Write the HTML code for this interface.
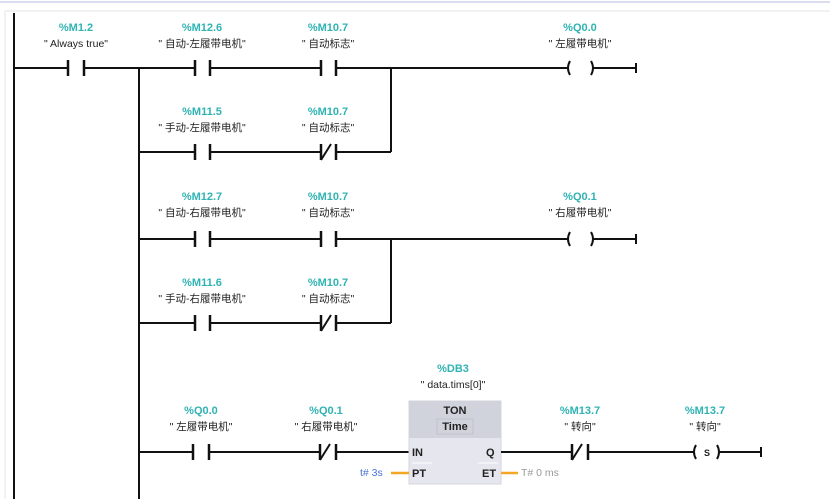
<!DOCTYPE html>
<html><head><meta charset="utf-8"><style>
html,body{margin:0;padding:0;background:#fff;}
svg{display:block;}
.a{font:bold 11px "Liberation Sans","Noto Sans CJK SC",sans-serif;fill:#2fb3b3;text-anchor:middle;}
.n{font:10.5px "Liberation Sans","Noto Sans CJK SC",sans-serif;fill:#222;text-anchor:middle;}
.w{stroke:#111;stroke-width:2;fill:none;}
.p{stroke:#111;stroke-width:2.5;fill:none;}
.b{font:bold 11px "Liberation Sans",sans-serif;fill:#222;}
</style></head><body>
<svg width="830" height="499" viewBox="0 0 830 499" xmlns="http://www.w3.org/2000/svg">
<rect x="0" y="1" width="830" height="2" fill="#dcdcf0"/>
<line x1="5" y1="11" x2="830" y2="11" stroke="#eeeeee" stroke-width="1.5"/>
<line x1="5" y1="11" x2="5" y2="499" stroke="#eeeeee" stroke-width="1.5"/>
<!-- rails -->
<line class="w" x1="14" y1="13" x2="14" y2="499"/>
<line class="w" x1="139" y1="68" x2="139" y2="499"/>
<line class="w" x1="391" y1="68" x2="391" y2="152"/>
<line class="w" x1="391" y1="239" x2="391" y2="323"/>

<!-- rung 1 -->
<line class="w" x1="14" y1="68" x2="68" y2="68"/>
<line class="p" x1="68" y1="60" x2="68" y2="76"/><line class="p" x1="84" y1="60" x2="84" y2="76"/>
<line class="w" x1="84" y1="68" x2="195" y2="68"/>
<line class="p" x1="195" y1="60" x2="195" y2="76"/><line class="p" x1="210" y1="60" x2="210" y2="76"/>
<line class="w" x1="210" y1="68" x2="321" y2="68"/>
<line class="p" x1="321" y1="60" x2="321" y2="76"/><line class="p" x1="336" y1="60" x2="336" y2="76"/>
<line class="w" x1="336" y1="68" x2="568" y2="68"/>
<path class="w" d="M570 61 Q566 68 570 75 M591 61 Q595 68 591 75"/>
<line class="w" x1="593" y1="68" x2="636" y2="68"/><line class="w" x1="636" y1="63" x2="636" y2="73"/>
<text class="a" x="76" y="31">%M1.2</text><text class="n" x="76" y="47">" Always true"</text>
<text class="a" x="202" y="31">%M12.6</text><text class="n" x="202" y="47">" 自动-左履带电机"</text>
<text class="a" x="328" y="31">%M10.7</text><text class="n" x="328" y="47">" 自动标志"</text>
<text class="a" x="580" y="31">%Q0.0</text><text class="n" x="580" y="47">" 左履带电机"</text>

<!-- rung 2 -->
<line class="w" x1="139" y1="152" x2="195" y2="152"/>
<line class="p" x1="195" y1="144" x2="195" y2="160"/><line class="p" x1="210" y1="144" x2="210" y2="160"/>
<line class="w" x1="210" y1="152" x2="321" y2="152"/>
<line class="p" x1="321" y1="144" x2="321" y2="160"/><line class="p" x1="336" y1="144" x2="336" y2="160"/>
<line class="w" x1="321" y1="160" x2="331" y2="144"/>
<line class="w" x1="336" y1="152" x2="391" y2="152"/>
<text class="a" x="202" y="115">%M11.5</text><text class="n" x="202" y="131">" 手动-左履带电机"</text>
<text class="a" x="328" y="115">%M10.7</text><text class="n" x="328" y="131">" 自动标志"</text>

<!-- rung 3 -->
<line class="w" x1="139" y1="239" x2="195" y2="239"/>
<line class="p" x1="195" y1="231" x2="195" y2="247"/><line class="p" x1="210" y1="231" x2="210" y2="247"/>
<line class="w" x1="210" y1="239" x2="321" y2="239"/>
<line class="p" x1="321" y1="231" x2="321" y2="247"/><line class="p" x1="336" y1="231" x2="336" y2="247"/>
<line class="w" x1="336" y1="239" x2="568" y2="239"/>
<path class="w" d="M570 232 Q566 239 570 246 M591 232 Q595 239 591 246"/>
<line class="w" x1="593" y1="239" x2="636" y2="239"/><line class="w" x1="636" y1="234" x2="636" y2="244"/>
<text class="a" x="202" y="200">%M12.7</text><text class="n" x="202" y="216">" 自动-右履带电机"</text>
<text class="a" x="328" y="200">%M10.7</text><text class="n" x="328" y="216">" 自动标志"</text>
<text class="a" x="580" y="200">%Q0.1</text><text class="n" x="580" y="216">" 右履带电机"</text>

<!-- rung 4 -->
<line class="w" x1="139" y1="323" x2="195" y2="323"/>
<line class="p" x1="195" y1="315" x2="195" y2="331"/><line class="p" x1="210" y1="315" x2="210" y2="331"/>
<line class="w" x1="210" y1="323" x2="321" y2="323"/>
<line class="p" x1="321" y1="315" x2="321" y2="331"/><line class="p" x1="336" y1="315" x2="336" y2="331"/>
<line class="w" x1="321" y1="331" x2="331" y2="315"/>
<line class="w" x1="336" y1="323" x2="391" y2="323"/>
<text class="a" x="202" y="286">%M11.6</text><text class="n" x="202" y="302">" 手动-右履带电机"</text>
<text class="a" x="328" y="286">%M10.7</text><text class="n" x="328" y="302">" 自动标志"</text>

<!-- rung 5 -->
<line class="w" x1="139" y1="452" x2="193" y2="452"/>
<line class="p" x1="193" y1="444" x2="193" y2="460"/><line class="p" x1="209" y1="444" x2="209" y2="460"/>
<line class="w" x1="209" y1="452" x2="320" y2="452"/>
<line class="p" x1="320" y1="444" x2="320" y2="460"/><line class="p" x1="336" y1="444" x2="336" y2="460"/>
<line class="w" x1="320" y1="460" x2="330" y2="444"/>
<line class="w" x1="336" y1="452" x2="409" y2="452"/>
<text class="a" x="201" y="414">%Q0.0</text><text class="n" x="201" y="430">" 左履带电机"</text>
<text class="a" x="326" y="414">%Q0.1</text><text class="n" x="326" y="430">" 右履带电机"</text>
<text class="a" x="453" y="372">%DB3</text><text class="n" x="453" y="388">" data.tims[0]"</text>
<!-- TON box -->
<rect x="409" y="401" width="92" height="83" fill="#e6e6ee" stroke="#d6d6de"/>
<rect x="409" y="401" width="92" height="37" fill="#d0d2dc"/>
<text class="b" x="455" y="414" text-anchor="middle">TON</text>
<rect x="437" y="419" width="36" height="15" fill="none" stroke="#bfc2cc"/>
<text class="b" x="455" y="430" text-anchor="middle">Time</text>
<text class="b" x="412" y="456">IN</text>
<text class="b" x="412" y="477">PT</text>
<text class="b" x="486" y="456">Q</text>
<text class="b" x="482" y="477">ET</text>
<line x1="412" y1="463" x2="432" y2="463" stroke="#fff" stroke-width="1"/>
<line x1="478" y1="463" x2="498" y2="463" stroke="#fff" stroke-width="1"/>
<line x1="391" y1="473" x2="409" y2="473" stroke="#f5a623" stroke-width="2.5"/>
<line x1="501" y1="473" x2="518" y2="473" stroke="#f5a623" stroke-width="2.5"/>
<text x="360" y="476" style="font:10.5px 'Liberation Sans',sans-serif;fill:#4a6fd8">t# 3s</text>
<text x="521" y="476" style="font:10.5px 'Liberation Sans',sans-serif;fill:#999">T# 0 ms</text>
<line class="w" x1="501" y1="452" x2="572" y2="452"/>
<line class="p" x1="572" y1="444" x2="572" y2="460"/><line class="p" x1="588" y1="444" x2="588" y2="460"/>
<line class="w" x1="572" y1="460" x2="582" y2="444"/>
<line class="w" x1="588" y1="452" x2="694" y2="452"/>
<path class="w" d="M696 445 Q692 452 696 459 M717 445 Q721 452 717 459"/>
<text x="707" y="456" style="font:bold 9px 'Liberation Sans',sans-serif;fill:#222" text-anchor="middle">S</text>
<line class="w" x1="719" y1="452" x2="761" y2="452"/><line class="w" x1="761" y1="447" x2="761" y2="457"/>
<text class="a" x="580" y="414">%M13.7</text><text class="n" x="580" y="430">" 转向"</text>
<text class="a" x="705" y="414">%M13.7</text><text class="n" x="705" y="430">" 转向"</text>
</svg>
</body></html>
